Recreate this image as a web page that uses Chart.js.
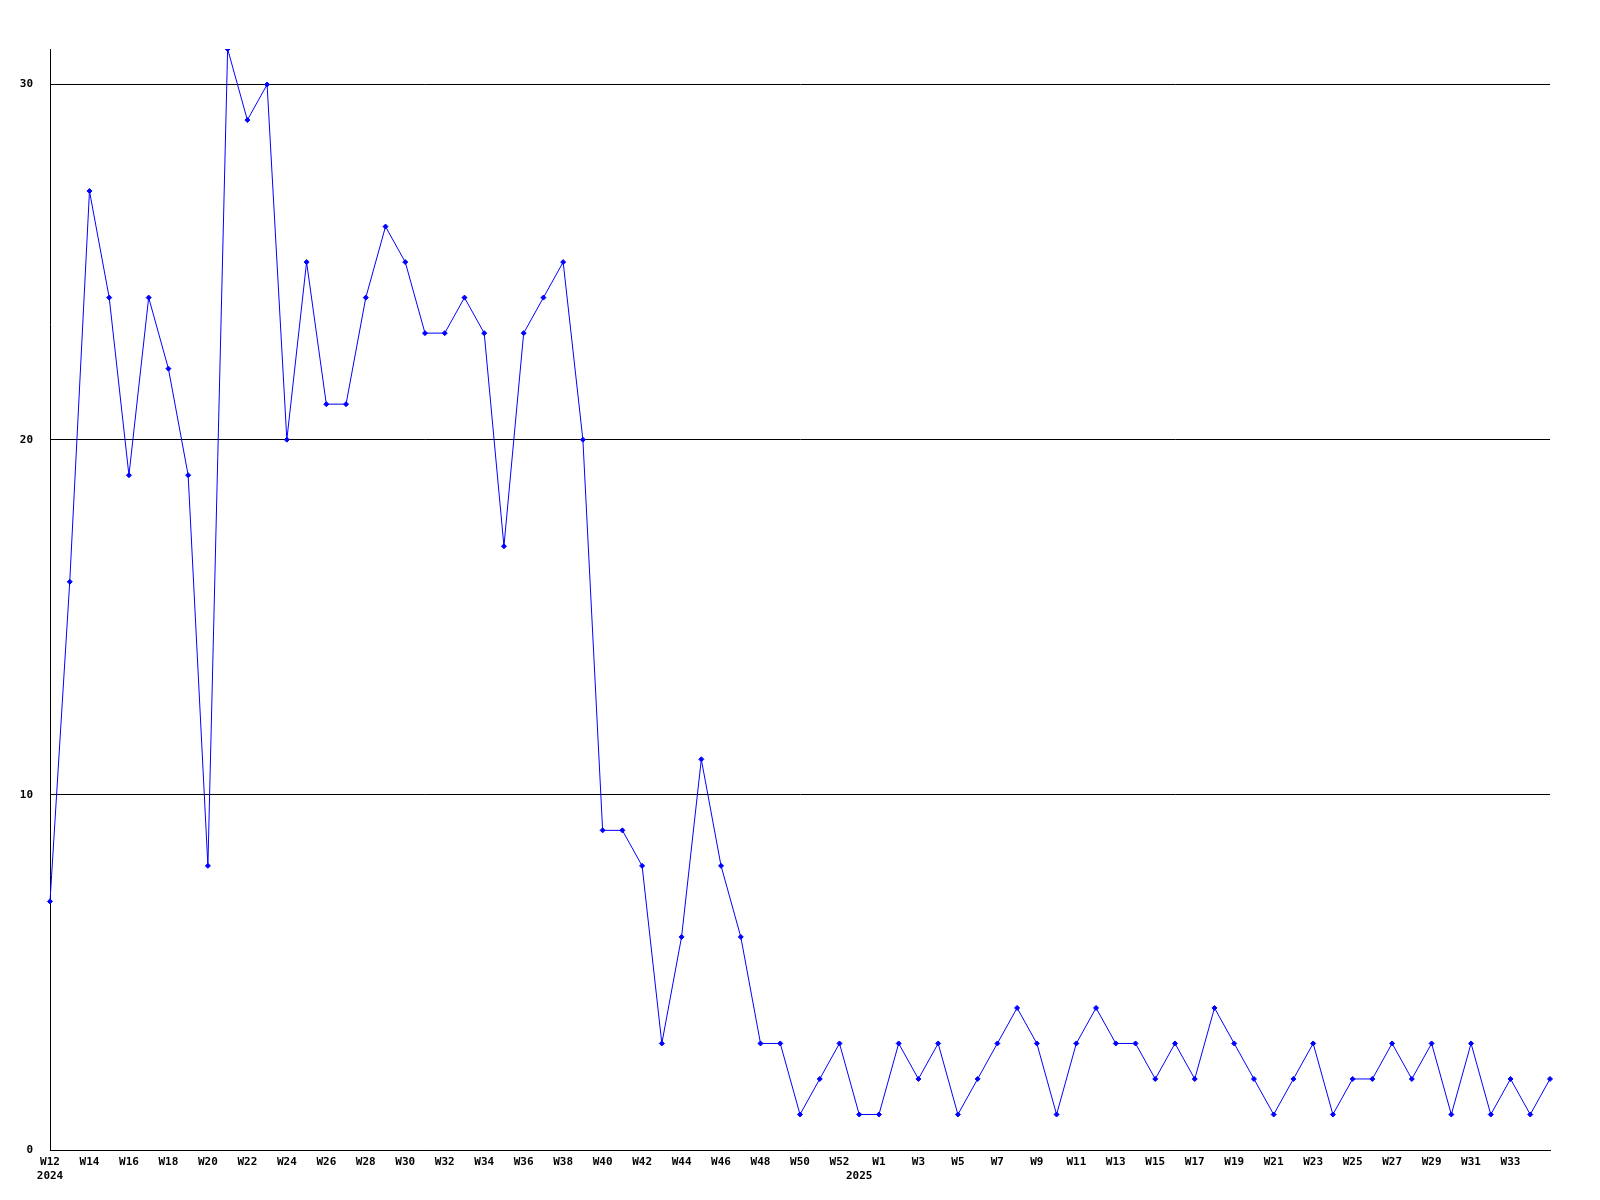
<!DOCTYPE html>
<html>
<head>
<meta charset="utf-8">
<script src="https://cdn.jsdelivr.net/npm/chart.js@4/dist/chart.umd.min.js"></script>
<style>
  html, body { margin: 0; padding: 0; background: #ffffff; }
  canvas { display: block; }
</style>
</head>
<body>
<canvas id="c" width="1600" height="1200"></canvas>
<script>
// Week categories (2024 W12..W52, one unlabeled week at the year change, then 2025 W1..W35)
const weeks2024 = ["W12","W13","W14","W15","W16","W17","W18","W19","W20","W21","W22","W23","W24","W25","W26","W27","W28","W29","W30","W31","W32","W33","W34","W35","W36","W37","W38","W39","W40","W41","W42","W43","W44","W45","W46","W47","W48","W49","W50","W51","W52"];
const yearChangeWeek = [""];
const weeks2025 = ["W1","W2","W3","W4","W5","W6","W7","W8","W9","W10","W11","W12","W13","W14","W15","W16","W17","W18","W19","W20","W21","W22","W23","W24","W25","W26","W27","W28","W29","W30","W31","W32","W33","W34","W35"];
const categories = weeks2024.concat(yearChangeWeek, weeks2025);

// Year labels under the week labels, keyed by category index
const yearLabels = { 0: "2024", 41: "2025" };

// Series values
const values2024 = [7,16,27,24,19,24,22,19,8,31,29,30,20,25,21,21,24,26,25,23,23,24,23,17,23,24,25,20,9,9,8,3,6,11,8,6,3,3,1,2,3];
const valuesYearChange = [1];
const values2025 = [1,3,2,3,1,2,3,4,3,1,3,4,3,3,2,3,2,4,3,2,1,2,3,1,2,2,3,2,3,1,3,1,2,1,2];
const series = values2024.concat(valuesYearChange, values2025);

// Y axis ticks
const yTicks = [0, 10, 20, 30];
const yMax = 31;

const FONT = { family: "'DejaVu Sans Mono', 'Liberation Mono', monospace", size: 11, weight: 'bold' };

new Chart(document.getElementById('c'), {
  type: 'line',
  data: {
    labels: categories,
    datasets: [{
      data: series,
      borderColor: '#0000ff',
      backgroundColor: '#0000ff',
      borderWidth: 1,
      pointStyle: 'rectRot',
      pointRadius: 2.5,
      pointBorderWidth: 1,
      pointBorderColor: '#0000ff',
      pointBackgroundColor: '#0000ff',
      tension: 0,
      fill: false
    }]
  },
  options: {
    responsive: false,
    animation: false,
    devicePixelRatio: 1,
    layout: { padding: { top: 49, right: 50, left: 0, bottom: 0 } },
    plugins: { legend: { display: false }, tooltip: { enabled: false } },
    scales: {
      x: {
        type: 'category',
        offset: false,
        grid: { display: false, drawTicks: false },
        border: { display: true, color: '#000000', width: 1 },
        ticks: {
          autoSkip: false,
          maxRotation: 0,
          minRotation: 0,
          padding: 6,
          color: '#000000',
          font: FONT,
          callback: function(value, index) {
            const w = (index % 2 === 0 && index < categories.length - 1) ? categories[index] : "";
            const y = yearLabels[index];
            return y ? [w, y] : w;
          }
        },
        afterFit: function(scale) { scale.height = 50; }
      },
      y: {
        min: 0,
        max: yMax,
        afterBuildTicks: function(scale) { scale.ticks = yTicks.map(v => ({ value: v })); },
        grid: { display: true, color: '#000000', lineWidth: 1, drawTicks: false },
        border: { display: true, color: '#000000', width: 1 },
        ticks: {
          padding: 17,
          color: '#000000',
          font: FONT
        },
        afterFit: function(scale) { scale.width = 50; }
      }
    }
  }
});
</script>
</body>
</html>
